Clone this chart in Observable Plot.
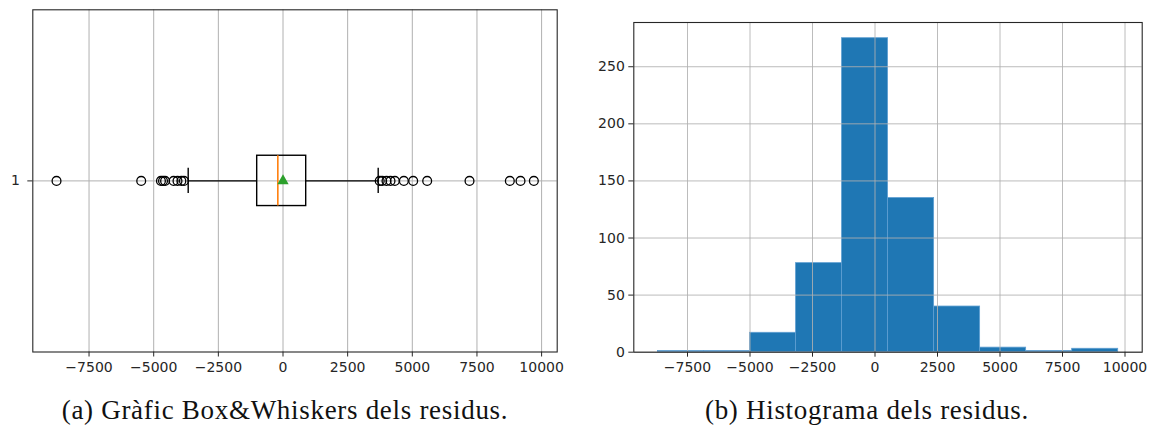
<!DOCTYPE html>
<html>
<head>
<meta charset="utf-8">
<script src="https://cdn.jsdelivr.net/npm/d3@7"></script>
<script src="https://cdn.jsdelivr.net/npm/@observablehq/plot@0.6"></script>
<style>
  html, body { margin: 0; padding: 0; background: #fff; }
  #fig { position: relative; width: 1154px; height: 432px; background: #fff; overflow: hidden; }
  .panel { position: absolute; top: 0; }
  .caption {
    position: absolute; top: 397px;
    font-family: "Liberation Serif", serif; font-size: 27px; line-height: 1;
    letter-spacing: 0.7px;
    color: #111; text-align: center; white-space: nowrap;
  }
</style>
</head>
<body>
<div id="fig">
  <div id="box" class="panel" style="left:0px;width:570px"></div>
  <div id="hist" class="panel" style="left:580px;width:574px"></div>
  <div class="caption" style="left:0px;width:570px">(a) Gràfic Box&amp;Whiskers dels residus.</div>
  <div class="caption" style="left:580px;width:574px">(b) Histograma dels residus.</div>
</div>
<script>
// Residual summary for the box-and-whiskers plot
const boxQ1 = -998;
const boxMedian = -200;
const boxQ3 = 897;
const boxWhiskerLow = -3666;
const boxWhiskerHigh = 3681;
const boxMean = 0;
const boxOutliers = [-8758, -5483, -4720, -4640, -4560, -4230, -4080, -3930, -3830,
  3740, 3835, 4002, 4157, 4325, 4673, 5034, 5575, 7212, 8771, 9184, 9700];

// Histogram of the residuals (10 equal-width bins)
const binEdges = [-8680, -6839, -4998, -3158, -1317, 524, 2365, 4205, 6046, 7887, 9728];
const binCounts = [1, 1, 17, 78, 275, 135, 40, 4, 1, 3];

// Tick values
const xTicks = [-7500, -5000, -2500, 0, 2500, 5000, 7500, 10000];
const histYTicks = [0, 50, 100, 150, 200, 250];
const boxYTicks = [1];

const fmt = d => (d < 0 ? "\u2212" + Math.abs(d) : String(d));
const gridColor = "#b0b0b0";
const ink = "#262626";
const tickFont = 14;
const baseStyle = {fontFamily: "DejaVu Sans", fontSize: tickFont + "px", color: ink, background: "white", overflow: "visible"};
const axisOpts = {fontSize: tickFont, fontFamily: "DejaVu Sans", fill: ink, stroke: ink, tickSize: 5, label: null};

// (a) Box & whiskers
const boxHalf = 0.0735;
const capHalf = 0.037;
const boxPlot = Plot.plot({
  width: 570, height: 390,
  marginLeft: 32.3, marginRight: 13.3, marginTop: 9.3, marginBottom: 38.5,
  style: baseStyle,
  x: {domain: [-9675, 10603]},
  y: {domain: [0.5, 1.5]},
  marks: [
    Plot.gridX(xTicks, {stroke: gridColor, strokeOpacity: 1, strokeWidth: 1}),
    Plot.gridY(boxYTicks, {stroke: gridColor, strokeOpacity: 1, strokeWidth: 1}),
    Plot.ruleY([1], {x1: boxWhiskerLow, x2: boxQ1, stroke: "black", strokeWidth: 1.4}),
    Plot.ruleY([1], {x1: boxQ3, x2: boxWhiskerHigh, stroke: "black", strokeWidth: 1.4}),
    Plot.ruleX([boxWhiskerLow, boxWhiskerHigh], {y1: 1 - capHalf, y2: 1 + capHalf, stroke: "black", strokeWidth: 1.4}),
    Plot.rect([0], {x1: boxQ1, x2: boxQ3, y1: 1 - boxHalf, y2: 1 + boxHalf, fill: "none", stroke: "black", strokeWidth: 1.4}),
    Plot.ruleX([boxMedian], {y1: 1 - boxHalf, y2: 1 + boxHalf, stroke: "#ff7f0e", strokeWidth: 1.6}),
    Plot.dot(boxOutliers, {x: d => d, y: () => 1, r: 4.4, fill: "none", stroke: "black", strokeWidth: 1.3}),
    Plot.dot([boxMean], {x: d => d, y: () => 1, r: 4.2, symbol: "triangle", fill: "#2ca02c", stroke: "none"}),
    Plot.frame({stroke: ink, strokeWidth: 1.1}),
    Plot.axisX({...axisOpts, ticks: xTicks, tickFormat: fmt, tickPadding: 5}),
    Plot.axisY({...axisOpts, ticks: boxYTicks, tickFormat: d => String(d), tickPadding: 8})
  ]
});
document.getElementById("box").append(boxPlot);

// (b) Histogram
const bins = binCounts.map((c, i) => ({x1: binEdges[i], x2: binEdges[i + 1], count: c}));
const histPlot = Plot.plot({
  width: 574, height: 390,
  marginLeft: 53.3, marginRight: 12.3, marginTop: 22, marginBottom: 38.3,
  style: baseStyle,
  x: {domain: [-9648, 10688]},
  y: {domain: [0, 288.75]},
  marks: [
    Plot.rectY(bins, {x1: "x1", x2: "x2", y1: 0, y2: "count", fill: "#1f77b4", stroke: "#5f9fd2", strokeWidth: 0.8, inset: 0}),
    Plot.gridX(xTicks, {stroke: gridColor, strokeOpacity: 0.85, strokeWidth: 1}),
    Plot.gridY(histYTicks, {stroke: gridColor, strokeOpacity: 0.85, strokeWidth: 1}),
    Plot.frame({stroke: ink, strokeWidth: 1.1}),
    Plot.axisX({...axisOpts, ticks: xTicks, tickFormat: fmt, tickPadding: 5}),
    Plot.axisY({...axisOpts, ticks: histYTicks, tickFormat: d => String(d), tickPadding: 4})
  ]
});
document.getElementById("hist").append(histPlot);
</script>
</body>
</html>
